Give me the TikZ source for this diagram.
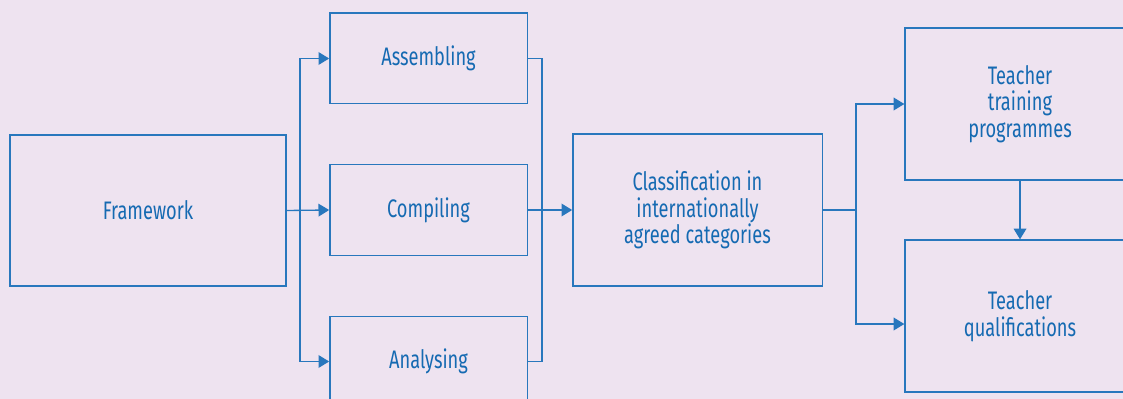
\documentclass[tikz,border=0pt]{standalone}
\usepackage{fontspec}
\setmainfont{Fira Sans}[FakeStretch=0.72]
\usetikzlibrary{arrows.meta}
\definecolor{bgpurple}{HTML}{EEE3F0}
\definecolor{linkblue}{HTML}{2877BD}
\definecolor{textblue}{HTML}{156AB2}
\begin{document}
\begin{tikzpicture}[x=0.75pt,y=-0.75pt,
    box/.style={draw=linkblue,line width=1pt,text=textblue,align=center,
      inner sep=0pt,font=\fontsize{19}{20}\selectfont},
    arr/.style={draw=linkblue,line width=1pt,-{Triangle[length=8pt,width=9.5pt]}},
    lnk/.style={draw=linkblue,line width=1pt}]
      \useasboundingbox (0,0) rectangle (1123,399);
      \fill[bgpurple] (0,0) rectangle (1123,399);
      \clip (0,0) rectangle (1123,399);
      \draw
        (148,210.5) node[box,minimum width=207pt,minimum height=113pt] (fw){Framework}
        (428.5,58.5) node[box,minimum width=148pt,minimum height=68pt] (asm){Assembling}
        (428.5,210) node[box,minimum width=148pt,minimum height=68pt] (cmp){Compiling}
        (428.5,361.5) node[box,minimum width=148pt,minimum height=68pt] (ana){Analysing}
        (697.5,210) node[box,minimum width=187pt,minimum height=114pt] (cls){Classification in\\internationally\\agreed categories}
        (1020,104) node[box,minimum width=172.5pt,minimum height=114pt] (ttp){Teacher\\training\\programmes}
        (1020,316) node[box,minimum width=172.5pt,minimum height=114pt] (tq){Teacher\\qualifications};
      \coordinate (split1) at (300,210);
      \coordinate (merge) at (542,210);
      \coordinate (split2) at (856,210);
      \begin{scope}
        \draw[arr] (fw.east) to (cmp.west);
        \draw[arr] (split1) |- (asm.west);
        \draw[arr] (split1) |- (ana.west);
        \draw[lnk] (asm.east) -| (merge) |- (ana.east);
        \draw[arr] (cmp.east) to (cls.west);
        \draw[lnk] (cls.east) to (split2);
        \draw[arr] (split2) |- (ttp.west);
        \draw[arr] (split2) |- ([yshift=-6pt]tq.west);
        \draw[arr] (ttp.south) to (tq.north);
      \end{scope}
    \end{tikzpicture}
\end{document}
